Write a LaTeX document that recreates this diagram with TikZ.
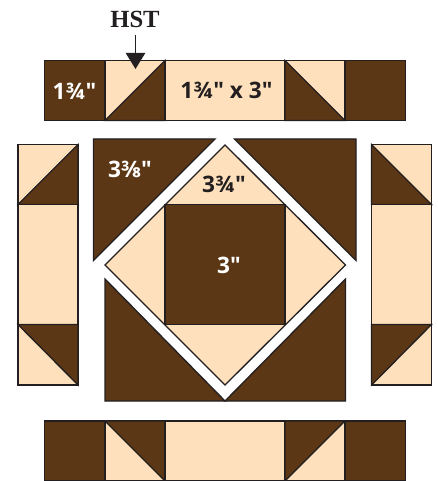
\documentclass[tikz,border=0pt]{standalone}
\usepackage{fontspec}
\setmainfont{Liberation Serif}
\newfontfamily\labelfont{Open Sans}
\usetikzlibrary{arrows.meta}
\definecolor{quiltbrown}{RGB}{92,55,22}
\definecolor{quiltcream}{RGB}{254,224,188}
\definecolor{quiltline}{RGB}{35,31,32}
\tikzset{
  darkpatch/.style={draw=quiltline, fill=quiltbrown, line width=1pt},
  lightpatch/.style={draw=quiltline, fill=quiltcream, line width=1pt},
  lightlabel/.style={font=\labelfont\bfseries\fontsize{17}{17}\selectfont, text=white, inner sep=0pt},
  darklabel/.style={font=\labelfont\bfseries\fontsize{17}{17}\selectfont, text=quiltline, inner sep=0pt},
  hstlabel/.style={font=\bfseries\fontsize{18.5}{18.5}\selectfont, text=quiltline, inner sep=0pt},
  hstarrow/.style={-{Triangle[length=12pt, width=14.5pt]}, line width=1pt, quiltline},
}
\begin{document}
\begin{tikzpicture}[x=0.75pt, y=-0.75pt]
\useasboundingbox (0,0) rectangle (438,481);
% top strip
\draw[darkpatch] (44.5,60.5) rectangle (105,120.5);
\draw[lightpatch] (105,60.5) rectangle (165,120.5);
\draw[darkpatch] (105,120.5) -- (165,60.5) -- (165,120.5) -- cycle;
\draw[lightpatch] (165,60.5) rectangle (285,120.5);
\draw[lightpatch] (285,60.5) rectangle (345,120.5);
\draw[darkpatch] (285,60.5) -- (345,120.5) -- (285,120.5) -- cycle;
\draw[darkpatch] (345,60.5) rectangle (405.5,120.5);
% left strip
\draw[lightpatch] (18,144.5) rectangle (78,204.5);
\draw[darkpatch] (18,204.5) -- (78,144.5) -- (78,204.5) -- cycle;
\draw[lightpatch] (18,204.5) rectangle (78,324.5);
\draw[lightpatch] (18,324.5) rectangle (78,385);
\draw[darkpatch] (18,324.5) -- (78,324.5) -- (78,385) -- cycle;
% right strip
\draw[lightpatch] (371.5,144.5) rectangle (431.5,204.5);
\draw[darkpatch] (371.5,144.5) -- (431.5,204.5) -- (371.5,204.5) -- cycle;
\draw[lightpatch] (371.5,204.5) rectangle (431.5,324.5);
\draw[lightpatch] (371.5,324.5) rectangle (431.5,385);
\draw[darkpatch] (371.5,324.5) -- (431.5,324.5) -- (371.5,385) -- cycle;
% centre
\draw[darkpatch] (93.5,139) -- (215,139) -- (93.5,260.5) -- cycle;
\draw[darkpatch] (234.5,139) -- (356,139) -- (356,260.5) -- cycle;
\draw[lightpatch] (225,145) -- (345.5,265) -- (225,385) -- (105,265) -- cycle;
\draw[darkpatch] (165,204.5) rectangle (285,324.5);
\draw[darkpatch] (105,279) -- (225,401) -- (105,401) -- cycle;
\draw[darkpatch] (345.5,279) -- (345.5,401) -- (225,401) -- cycle;
% bottom strip
\draw[darkpatch] (44.5,421) rectangle (105,481);
\draw[lightpatch] (105,421) rectangle (165,481);
\draw[darkpatch] (105,421) -- (165,421) -- (165,481) -- cycle;
\draw[lightpatch] (165,421) rectangle (285,481);
\draw[lightpatch] (285,421) rectangle (345,481);
\draw[darkpatch] (285,421) -- (345,421) -- (285,481) -- cycle;
\draw[darkpatch] (345,421) rectangle (405.5,481);
% labels
\node[lightlabel] (corner) at (74.5,91) {1¾"};
\node[darklabel] (sash) at (226.5,90) {1¾" x 3"};
\node[lightlabel] (big) at (130,169) {3⅜"};
\node[darklabel] (small) at (224,184) {3¾"};
\node[lightlabel] (centre) at (229,265) {3"};
\node[hstlabel] (hst) at (135,19) {HST};
\coordinate (hsttail) at (135.5,35);
\coordinate (hsttip) at (135.5,69);
\draw[hstarrow] (hsttail) -- (hsttip);
\end{tikzpicture}
\end{document}
